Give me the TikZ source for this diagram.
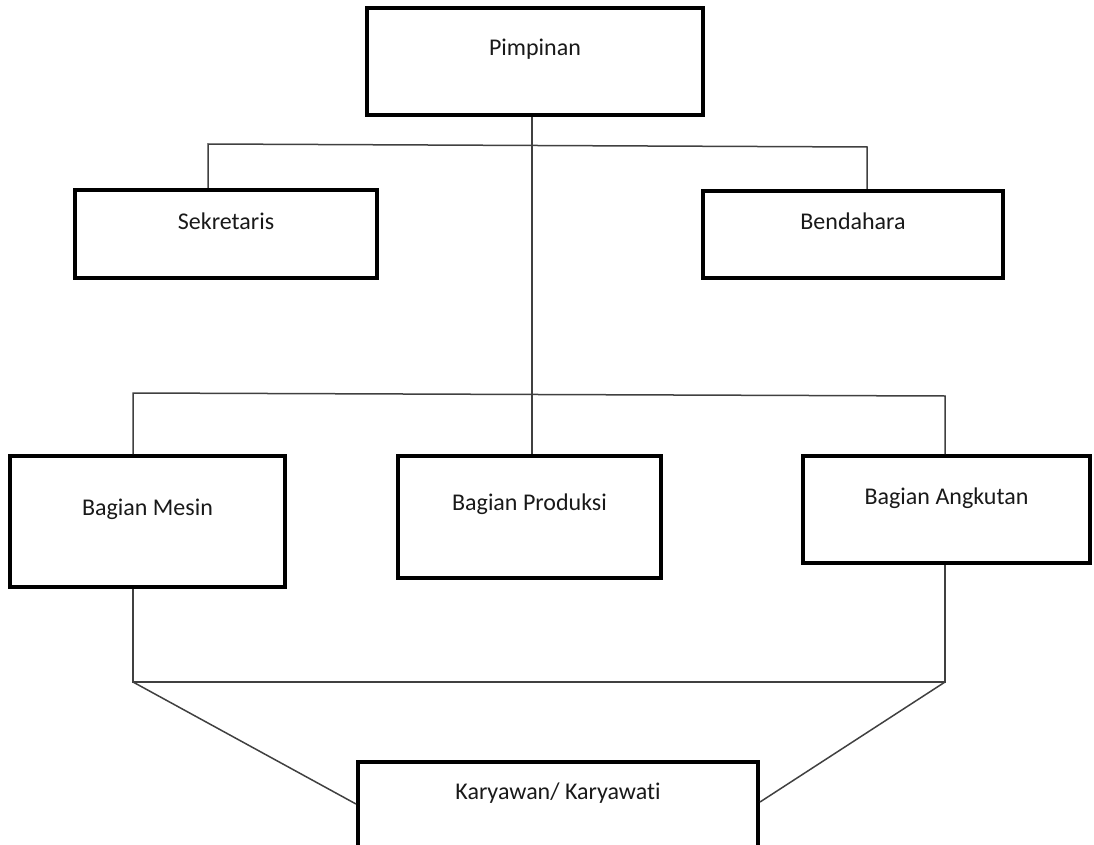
\documentclass[tikz,border=0pt]{standalone}
\usepackage{fontspec}
\setmainfont{Carlito}[Ligatures=NoCommon]
\usepackage{tikz}
\tikzstyle{block}=[draw,line width=4pt,rectangle,inner sep=0pt,text height=16pt,text depth=27pt]
\tikzstyle{link}=[draw=black!75,line width=1.5pt]
\tikzstyle{every node}=[font=\fontsize{24}{29}\selectfont,text=black!90]

\begin{document}
\begin{tikzpicture}[x=1pt,y=-1pt]
    \useasboundingbox (0,0) rectangle (1094,845);
    % boxes
    \node[block,minimum width=336pt,minimum height=107pt] (pimpinan) at (535,61.5) {Pimpinan};
    \node[block,minimum width=302pt,minimum height=88pt,text depth=26pt] (sekretaris) at (226,234) {Sekretaris};
    \node[block,minimum width=300pt,minimum height=87pt] (bendahara) at (853,234.5) {Bendahara};
    \node[block,minimum width=275pt,minimum height=131pt,text depth=29pt] (mesin) at (147.5,521.5) {Bagian Mesin};
    \node[block,minimum width=263pt,minimum height=122pt,text depth=30pt] (produksi) at (529.5,517) {Bagian Produksi};
    \node[block,minimum width=287pt,minimum height=107pt] (angkutan) at (946.5,509.5) {Bagian Angkutan};
    \node[block,minimum width=400pt,minimum height=98pt,text depth=40pt] (karyawan) at (558,811) {Karyawan/ Karyawati};
    % junctions
    \coordinate (sekjoin) at (208,144);
    \coordinate (benjoin) at (867,147);
    \coordinate (mesjoin) at (133,393);
    \coordinate (angjoin) at (945,396);
    \coordinate (mesbot) at (133,682);
    \coordinate (angbot) at (945,682);
    % lines
    \draw[link] ([xshift=-3pt]pimpinan.south) coordinate (pimpdrop) -- (pimpdrop |- produksi.north);
    \draw[link] (sekjoin |- sekretaris.north) -- (sekjoin) -- (benjoin) -- (benjoin |- bendahara.north);
    \draw[link] (mesjoin |- mesin.north) -- (mesjoin) -- (angjoin) -- (angjoin |- angkutan.north);
    \draw[link] (mesbot |- mesin.south) -- (mesbot) -- (angbot) -- (angbot |- angkutan.south);
    \draw[link] (mesbot) -- ([yshift=7pt]karyawan.west);
    \draw[link] (angbot) -- ([yshift=9pt]karyawan.east);
\end{tikzpicture}
\end{document}
